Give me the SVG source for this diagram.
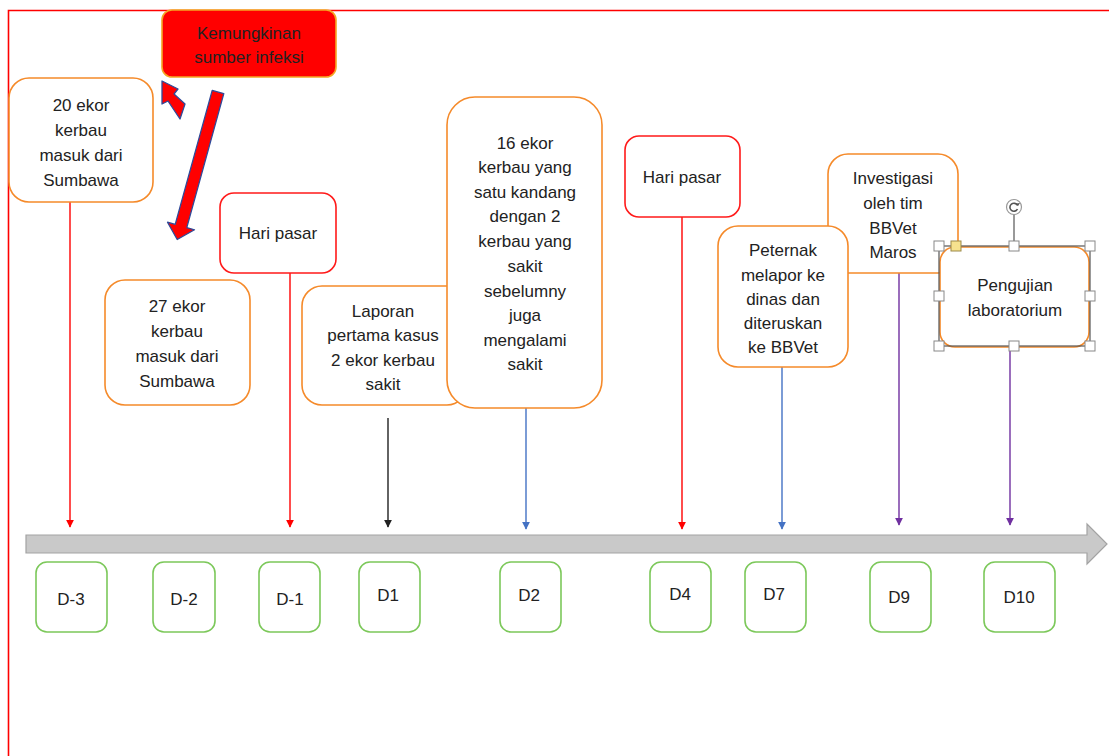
<svg xmlns="http://www.w3.org/2000/svg" width="1109" height="756" viewBox="0 0 1109 756">
<defs>
<style>
.t{font-family:"Liberation Sans",Arial,sans-serif;font-size:17px;fill:#222;text-anchor:middle;dominant-baseline:central}
.ob{fill:#fff;stroke:#F58A2A;stroke-width:1.6}
.rb{fill:#fff;stroke:#FF1A1A;stroke-width:1.6}
.gb{fill:#fff;stroke:#7CC85A;stroke-width:1.6}
.h{fill:#fff;stroke:#888;stroke-width:1}
.c{fill:none;stroke-width:1.4}
</style>
<marker id="ar" viewBox="0 0 10 10" refX="9" refY="5" markerWidth="8" markerHeight="8" markerUnits="userSpaceOnUse" orient="auto"><path d="M0,0L10,5L0,10Z" fill="#FF0000"/></marker>
<marker id="ak" viewBox="0 0 10 10" refX="9" refY="5" markerWidth="8" markerHeight="8" markerUnits="userSpaceOnUse" orient="auto"><path d="M0,0L10,5L0,10Z" fill="#222"/></marker>
<marker id="ab" viewBox="0 0 10 10" refX="9" refY="5" markerWidth="8" markerHeight="8" markerUnits="userSpaceOnUse" orient="auto"><path d="M0,0L10,5L0,10Z" fill="#4472C4"/></marker>
<marker id="ap" viewBox="0 0 10 10" refX="9" refY="5" markerWidth="8" markerHeight="8" markerUnits="userSpaceOnUse" orient="auto"><path d="M0,0L10,5L0,10Z" fill="#7030A0"/></marker>
</defs>
<rect width="1109" height="756" fill="#fff"/>
<path d="M8.5,756V10.5H1109" fill="none" stroke="#FF0000" stroke-width="1.6"/>

<g id="timeline"><polygon points="26,535 1087,535 1087,524 1107,544 1087,564 1087,553 26,553" fill="#C9C9C9" stroke="#A3A3A3" stroke-width="1.2"/></g>

<g id="connectors">
<line class="c" x1="70" y1="202" x2="70" y2="527" stroke="#FF0000" marker-end="url(#ar)"/>
<line class="c" x1="290" y1="273" x2="290" y2="527" stroke="#FF0000" marker-end="url(#ar)"/>
<line class="c" x1="388" y1="418" x2="388" y2="527" stroke="#222" marker-end="url(#ak)"/>
<line class="c" x1="526" y1="408" x2="526" y2="529" stroke="#4472C4" marker-end="url(#ab)"/>
<line class="c" x1="682" y1="217" x2="682" y2="529" stroke="#FF0000" marker-end="url(#ar)"/>
<line class="c" x1="782" y1="367" x2="782" y2="529" stroke="#4472C4" marker-end="url(#ab)"/>
<line class="c" x1="899" y1="273" x2="899" y2="525" stroke="#7030A0" marker-end="url(#ap)"/>
<line class="c" x1="1010" y1="347" x2="1010" y2="525" stroke="#7030A0" marker-end="url(#ap)"/>
<polygon points="162,81 162,104 168,101 180,119 185,104 174,94 178,89" fill="#FF0000" stroke="#2E4A9A" stroke-width="1.3" stroke-linejoin="round"/>
<polygon points="212.2,90.4 223.8,93.6 186.8,227.6 194.5,229.8 177.2,239.5 167.5,222.2 175.2,224.4" fill="#FF0000" stroke="#2E4A9A" stroke-width="1.3" stroke-linejoin="round"/>
</g>

<g id="n-sumber"><rect x="162" y="10" width="174" height="67" rx="10" fill="#FF0000" stroke="#F5A623" stroke-width="1.6"/>
<text class="t" x="249" y="33">Kemungkinan</text><text class="t" x="249" y="57">sumber infeksi</text></g>

<g id="n-20ekor"><rect class="ob" x="9" y="78" width="144" height="124" rx="20"/>
<text class="t" x="81" y="105">20 ekor</text><text class="t" x="81" y="130">kerbau</text><text class="t" x="81" y="155">masuk dari</text><text class="t" x="81" y="180">Sumbawa</text></g>

<g id="n-27ekor"><rect class="ob" x="105" y="280" width="145" height="125" rx="20"/>
<text class="t" x="177" y="306">27 ekor</text><text class="t" x="177" y="331">kerbau</text><text class="t" x="177" y="356">masuk dari</text><text class="t" x="177" y="381">Sumbawa</text></g>

<g id="n-haripasar1"><rect class="rb" x="220" y="193" width="116" height="80" rx="14"/>
<text class="t" x="278" y="233">Hari pasar</text></g>

<g id="n-laporan"><rect class="ob" x="302" y="286" width="165" height="119" rx="20"/>
<text class="t" x="383" y="311">Laporan</text><text class="t" x="383" y="335">pertama kasus</text><text class="t" x="383" y="360">2 ekor kerbau</text><text class="t" x="383" y="384">sakit</text></g>

<g id="n-16ekor"><rect class="ob" x="447" y="97" width="155" height="311" rx="28"/>
<text class="t" x="525" y="143">16 ekor</text><text class="t" x="525" y="167">kerbau yang</text><text class="t" x="525" y="192">satu kandang</text><text class="t" x="525" y="216">dengan 2</text><text class="t" x="525" y="241">kerbau yang</text><text class="t" x="525" y="266">sakit</text><text class="t" x="525" y="291">sebelumny</text><text class="t" x="525" y="315">juga</text><text class="t" x="525" y="340">mengalami</text><text class="t" x="525" y="364">sakit</text></g>

<g id="n-haripasar2"><rect class="rb" x="625" y="136" width="115" height="81" rx="14"/>
<text class="t" x="682" y="177">Hari pasar</text></g>

<g id="n-investigasi"><rect class="ob" x="828" y="154" width="130" height="119" rx="20"/>
<text class="t" x="893" y="178">Investigasi</text><text class="t" x="893" y="203">oleh tim</text><text class="t" x="893" y="228">BBVet</text><text class="t" x="893" y="252">Maros</text></g>

<g id="n-peternak"><rect class="ob" x="718" y="226" width="130" height="141" rx="20"/>
<text class="t" x="783" y="250">Peternak</text><text class="t" x="783" y="275">melapor ke</text><text class="t" x="783" y="299">dinas dan</text><text class="t" x="783" y="323">diteruskan</text><text class="t" x="783" y="347">ke BBVet</text></g>

<g id="n-pengujian"><rect class="ob" x="940" y="247" width="149" height="100" rx="15"/>
<text class="t" x="1015" y="285">Pengujian</text><text class="t" x="1015" y="310">laboratorium</text>
<rect x="939" y="246" width="151" height="100" fill="none" stroke="#555" stroke-width="1.2"/>
<line x1="1014" y1="214" x2="1014" y2="246" stroke="#555" stroke-width="1.2"/>
<circle cx="1014" cy="207" r="7.5" fill="#fff" stroke="#999" stroke-width="1.2"/>
<path d="M1017.5,205.5A4,4 0 1 0 1017.5,209" fill="none" stroke="#555" stroke-width="1.6"/>
<path d="M1015.5,203.5l2.5,2.5l2,-3z" fill="#555"/>
<rect class="h" x="934" y="241" width="10" height="10"/>
<rect x="951" y="241" width="10" height="10" fill="#F6E28E" stroke="#9C8A4A" stroke-width="1"/>
<rect class="h" x="1009" y="241" width="10" height="10"/>
<rect class="h" x="1085" y="241" width="10" height="10"/>
<rect class="h" x="934" y="291" width="10" height="10"/>
<rect class="h" x="1085" y="291" width="10" height="10"/>
<rect class="h" x="934" y="341" width="10" height="10"/>
<rect class="h" x="1009" y="341" width="10" height="10"/>
<rect class="h" x="1085" y="341" width="10" height="10"/></g>

<g id="d-3"><rect class="gb" x="36" y="562" width="71" height="70" rx="11"/><text class="t" x="71" y="599">D-3</text></g>
<g id="d-2"><rect class="gb" x="153" y="562" width="62" height="70" rx="11"/><text class="t" x="184" y="599">D-2</text></g>
<g id="d-1"><rect class="gb" x="259" y="562" width="61" height="70" rx="11"/><text class="t" x="290" y="599">D-1</text></g>
<g id="d1"><rect class="gb" x="359" y="562" width="61" height="70" rx="11"/><text class="t" x="388" y="595">D1</text></g>
<g id="d2"><rect class="gb" x="500" y="562" width="61" height="70" rx="11"/><text class="t" x="529" y="595">D2</text></g>
<g id="d4"><rect class="gb" x="650" y="562" width="61" height="70" rx="11"/><text class="t" x="680" y="594">D4</text></g>
<g id="d7"><rect class="gb" x="745" y="562" width="61" height="70" rx="11"/><text class="t" x="774" y="594">D7</text></g>
<g id="d9"><rect class="gb" x="870" y="562" width="61" height="70" rx="11"/><text class="t" x="899" y="597">D9</text></g>
<g id="d10"><rect class="gb" x="984" y="562" width="71" height="70" rx="11"/><text class="t" x="1019" y="597">D10</text></g>
</svg>
